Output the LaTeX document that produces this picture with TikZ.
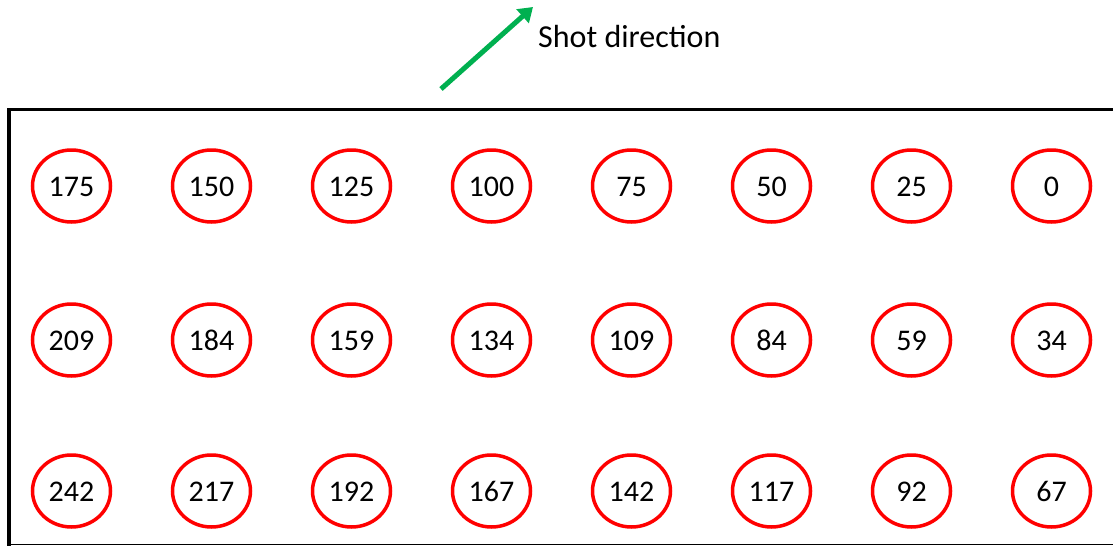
\documentclass[tikz,border=0pt]{standalone}
\usepackage{fontspec}
\setmainfont{Carlito}
\usetikzlibrary{arrows.meta, positioning, shapes.geometric}
\definecolor{ringred}{RGB}{255,0,0}
\definecolor{shotgreen}{RGB}{0,176,80}

\begin{document}
\begin{tikzpicture}[
x=1pt, y=-1pt,
hole/.style={ellipse, draw=ringred, line width=3.5pt, minimum width=78pt, minimum height=72pt, inner sep=0pt, text height=20pt, text depth=0pt, font=\fontsize{30}{30}\selectfont},
frame/.style={line width=3.5pt},
arrow/.style={-{Triangle[length=14pt,width=18pt]}, line width=5pt, shotgreen}
]
\useasboundingbox (0,0) rectangle (1113,546);

% frame
\draw[frame] (1113,109.5) -- (9,109.5) -- (9,546);
\draw[line width=1.2pt] (9,544.5) -- (1113,544.5);

% holes, right to left
\foreach \n [count=\i from 0] in {175,150,125,100,75,50,25,0}
  \node[hole] (h\n) at (71.5+140*\i, 186) {\n};
\foreach \n [count=\i from 0] in {209,184,159,134,109,84,59,34}
  \node[hole] (h\n) at (71.5+140*\i, 340) {\n};
\foreach \n [count=\i from 0] in {242,217,192,167,142,117,92,67}
  \node[hole] (h\n) at (71.5+140*\i, 491) {\n};

% shot direction
\coordinate (tail) at (441,89);
\coordinate (tip) at (533,7);
\draw[arrow] (tail) -- (tip);
\node[font=\fontsize{32}{32}\selectfont, anchor=west, inner sep=0pt] (shot) at (538,37) {Shot direction};

\end{tikzpicture}
\end{document}
